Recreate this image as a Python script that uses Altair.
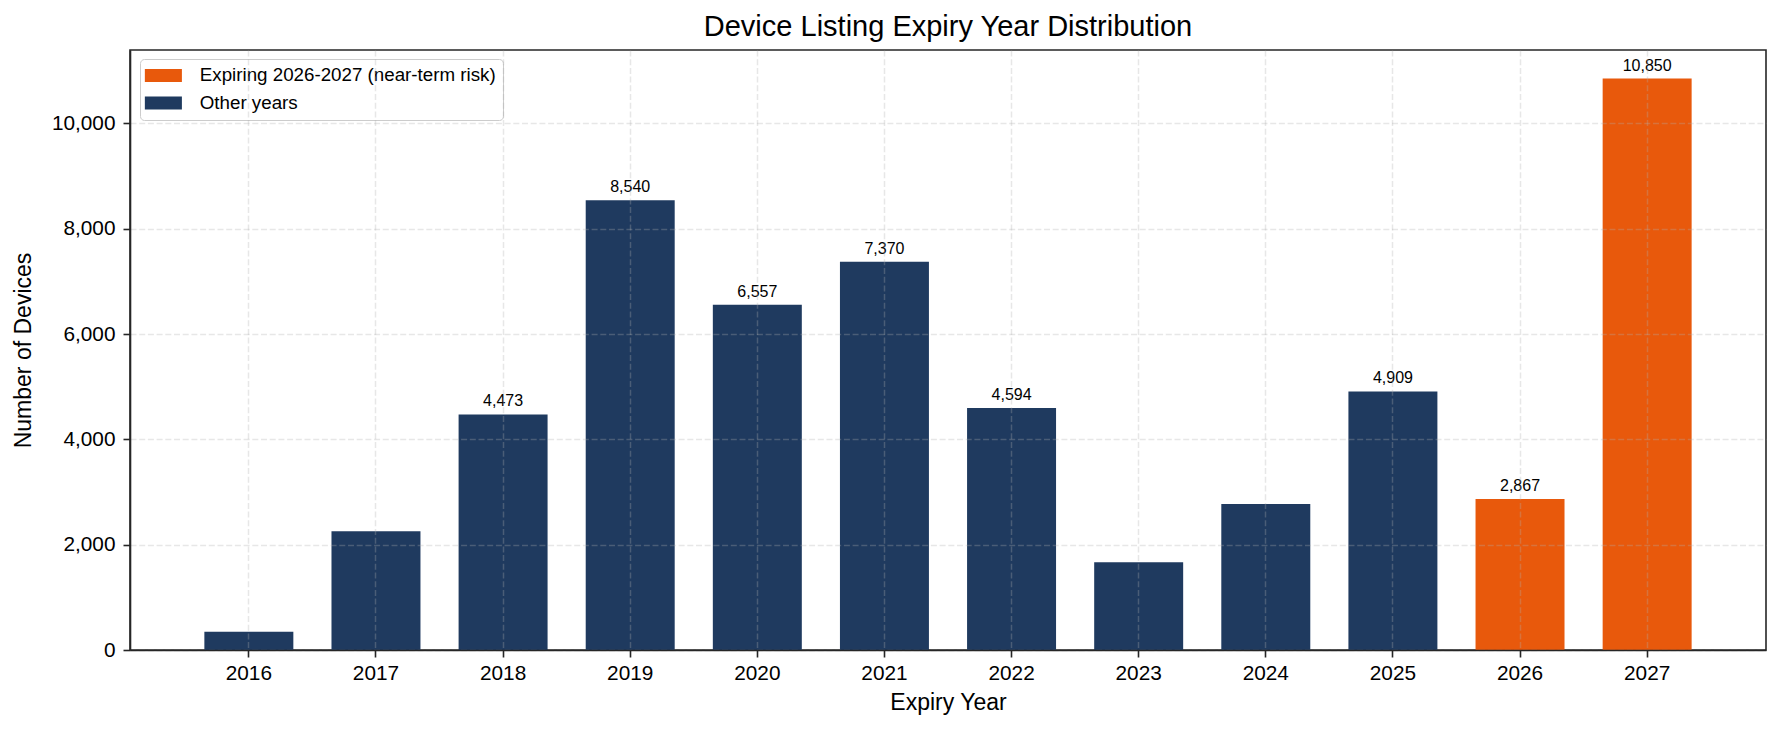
import altair as alt
import pandas as pd

years = ["2016", "2017", "2018", "2019", "2020", "2021", "2022", "2023", "2024", "2025", "2026", "2027"]
counts = [345, 2257, 4473, 8540, 6557, 7370, 4594, 1668, 2770, 4909, 2867, 10850]
groups = ["Other years"] * 10 + ["Expiring 2026-2027 (near-term risk)"] * 2
show_label = [False, False, True, True, True, True, True, False, False, True, True, True]

legend_order = ["Expiring 2026-2027 (near-term risk)", "Other years"]
palette = ["#E8590C", "#1F3A5F"]

df = pd.DataFrame({"year": years, "count": counts, "group": groups, "show": show_label})

FONT = "Liberation Sans"
y_max = max(counts) * 1.05

x_enc = alt.X(
    "year:O",
    sort=years,
    title="Expiry Year",
    scale=alt.Scale(paddingInner=0.3, paddingOuter=0.585),
    axis=alt.Axis(
        labelAngle=0, bandPosition=0.5, grid=True, zindex=1,
        gridColor="#b0b0b0", gridOpacity=0.3, gridDash=[6, 2.7], gridWidth=1.5,
        labelFontSize=20.8, titleFontSize=23, labelPadding=6, titlePadding=9,
        labelFont=FONT, titleFont=FONT, labelColor="#000", titleColor="#000",
        titleFontWeight="normal", tickSize=7, tickWidth=1.6, tickColor="#262626",
        domainColor="#262626", domainWidth=1.6,
    ),
)
y_scale = alt.Scale(domain=[0, y_max], nice=False, zero=True)

bars = alt.Chart(df).mark_bar().encode(
    x=x_enc,
    y=alt.Y(
        "count:Q",
        title="Number of Devices",
        scale=y_scale,
        axis=alt.Axis(
            values=[0, 2000, 4000, 6000, 8000, 10000], format=",d", grid=True, zindex=1,
            gridColor="#b0b0b0", gridOpacity=0.3, gridDash=[6, 2.7], gridWidth=1.5,
            labelFontSize=20.8, titleFontSize=23, labelPadding=8, titlePadding=16,
            labelFont=FONT, titleFont=FONT, labelColor="#000", titleColor="#000",
            titleFontWeight="normal", tickSize=7, tickWidth=1.6, tickColor="#262626",
            domainColor="#262626", domainWidth=1.6,
        ),
    ),
    color=alt.Color(
        "group:N",
        scale=alt.Scale(domain=legend_order, range=palette),
        legend=alt.Legend(
            title=None, orient="none", legendX=10, legendY=9,
            symbolType="M-2.85,-1L2.85,-1L2.85,1L-2.85,1Z", symbolSize=169,
            symbolOffset=7, symbolStrokeWidth=0, symbolOpacity=1,
            labelFont=FONT, labelFontSize=18.75, labelColor="#000", labelOffset=27,
            labelLimit=0, padding=7, rowPadding=7.5, fillColor="rgba(255,255,255,0.8)",
            strokeColor="#cccccc", cornerRadius=4,
        ),
    ),
)

labels = alt.Chart(df).transform_filter(alt.datum.show).mark_text(
    baseline="alphabetic", dy=-8, fontSize=16, font=FONT, color="#000"
).encode(
    x=alt.X("year:O", sort=years),
    y=alt.Y("count:Q", scale=y_scale),
    text=alt.Text("count:Q", format=","),
)

chart = (
    alt.layer(bars, labels)
    .properties(
        width=1636, height=600,
        background="white",
        title=alt.TitleParams(
            "Device Listing Expiry Year Distribution", fontSize=29, font=FONT,
            fontWeight="normal", color="#000", anchor="middle", frame="group",
            baseline="alphabetic", offset=13, dy=27.5,
        ),
        autosize=alt.AutoSizeParams(type="none"),
        padding={"left": 130, "top": 50, "right": 15, "bottom": 81},
    )
    .configure_view(stroke="#262626", strokeWidth=1.6)
)

chart.save("out.html", embed_options={"renderer": "svg", "actions": False})
